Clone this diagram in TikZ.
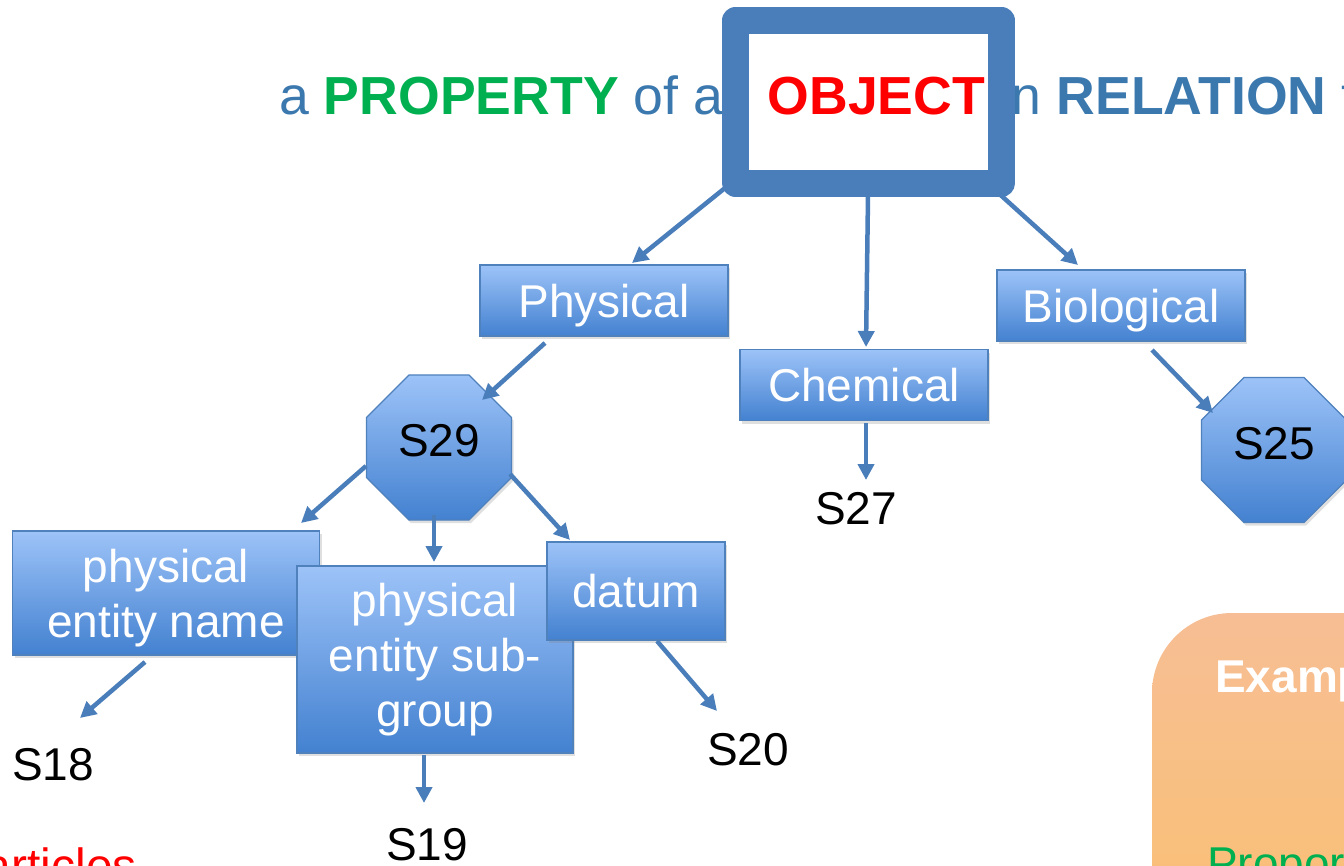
\documentclass[tikz,border=0pt]{standalone}
\usepackage{fontspec}
\setmainfont{Liberation Sans}
\usetikzlibrary{arrows.meta,shapes.geometric,calc,shadows}
\definecolor{tblue}{HTML}{3A78AE}
\definecolor{pgreen}{HTML}{00B050}
\definecolor{lineblue}{HTML}{4A7EBB}
\definecolor{boxtop}{HTML}{9DC3F8}
\definecolor{boxbot}{HTML}{4381D0}
\definecolor{boxedge}{HTML}{4F81BD}
\definecolor{orTop}{HTML}{F7BE95}
\definecolor{orBot}{HTML}{FAC06C}
\pgfdeclarelayer{bg}
\pgfsetlayers{bg,main}
\begin{document}
\begin{tikzpicture}[x=1pt,y=-1pt,
  bluebox/.style={draw=boxedge,line width=1.2pt,top color=boxtop,bottom color=boxbot,
    text=white,font=\fontsize{46}{55}\selectfont,align=center,inner sep=0pt,
    drop shadow={opacity=0.25,shadow xshift=2pt,shadow yshift=-3pt}},
  octa/.style={regular polygon,regular polygon sides=8,draw=boxedge,line width=1.2pt,
    top color=boxtop,bottom color=boxbot,minimum size=157pt,inner sep=0pt,
    text depth=14pt,font=\fontsize{46}{55}\selectfont,
    drop shadow={opacity=0.25,shadow xshift=2pt,shadow yshift=-3pt}},
  lab/.style={font=\fontsize{46}{55}\selectfont,inner sep=0pt},
  conn/.style={draw=lineblue,line width=4.5pt,-{Triangle[length=16pt,width=16pt]}},
]
\useasboundingbox (0,0) rectangle (1344,865);
\clip (0,0) rectangle (1344,865);

% orange panel
\path[top color=orTop,bottom color=orBot,rounded corners=80pt]
  (1152,613) rectangle (1500,1000);
\node[anchor=base west,inner sep=0pt,text=white,font=\fontsize{46}{55}\selectfont\bfseries]
  (exam) at (1215,692) {Example};
\node[anchor=base west,inner sep=0pt,text=pgreen,font=\fontsize{46}{55}\selectfont]
  (propo) at (1207,879) {Proportion};

% red text bottom left
\node[anchor=base west,inner sep=0pt,text=red,font=\fontsize{48}{55}\selectfont]
  (part) at (-42,882) {particles};

% title
\node[anchor=base west,inner sep=0pt,text=tblue,font=\fontsize{53.6}{60}\selectfont]
  (title) at (279,114) {a \textbf{\color{pgreen}PROPERTY} of an \textbf{\color{red}OBJECT} in \textbf{RELATION} to};

% object box
\node[draw=lineblue,line width=27pt,line join=round,minimum width=266pt,
  minimum height=162.5pt,inner sep=0pt] (obj) at (868.5,101.75) {};

% first level
\node[bluebox,minimum width=248pt,minimum height=71pt,text depth=0pt] (phys) at (604,300.5) {Physical};
\node[bluebox,minimum width=248pt,minimum height=71pt,text depth=0pt] (chem) at (864,385) {Chemical};
\node[bluebox,minimum width=248pt,minimum height=71pt,text depth=0pt] (bio) at (1121,305.5) {Biological};

% octagons
\node[octa] (s29) at (439,447.5) {S29};
\node[octa] (s25) at (1274,450) {S25};

% second level
\node[bluebox,minimum width=307pt,minimum height=124pt,text depth=0pt] (pen) at (166,593) {physical\\entity name};
\node[bluebox,minimum width=276pt,minimum height=187pt] (pes) at (435,659.5) {physical\\entity sub-\\group};
\node[bluebox,minimum width=178pt,minimum height=98pt] (datum) at (636,591) {\raisebox{-3pt}{datum}};

% leaf labels
\node[lab] (s27) at (856,508.5) {S27};
\node[lab] (s18) at (53,764.5) {S18};
\node[lab] (s19) at (427,845) {S19};
\node[lab] (s20) at (748,750) {S20};

% connectors from the object box (under the box)
\begin{pgfonlayer}{bg}
\draw[conn] ($(obj)+(-143.5,86.25)$) -- ($(phys)+(28,-37.5)$);
\draw[conn] ($(obj)+(-0.5,94.25)$) -- ($(chem)+(2,-38)$);
\draw[conn] ($(obj)+(126.5,88.25)$) -- ($(bio)+(-43,-40.5)$);
\end{pgfonlayer}

% other connectors
\draw[conn] ($(phys)+(-59,42.5)$) -- ($(s29)+(43,-47.5)$);
\draw[conn] ($(chem)+(2,38)$) -- ($(s27)+(10,-28.5)$);
\draw[conn] ($(bio)+(31,44.5)$) -- ($(s25)+(-61,-37)$);
\draw[conn] ($(s29)+(-73,18.5)$) -- ($(pen)+(135,-70)$);
\draw[conn] ($(s29)+(-5,67.5)$) -- ($(pes)+(-1,-97.5)$);
\draw[conn] ($(s29)+(71,26.5)$) -- ($(datum)+(-66,-51)$);
\draw[conn] ($(pen)+(-21,69)$) -- ($(s18)+(27,-46.5)$);
\draw[conn] ($(pes)+(-11,95.5)$) -- ($(s19)+(-3,-42)$);
\draw[conn] ($(datum)+(21,50)$) -- ($(s20)+(-31,-39)$);
\end{tikzpicture}
\end{document}
